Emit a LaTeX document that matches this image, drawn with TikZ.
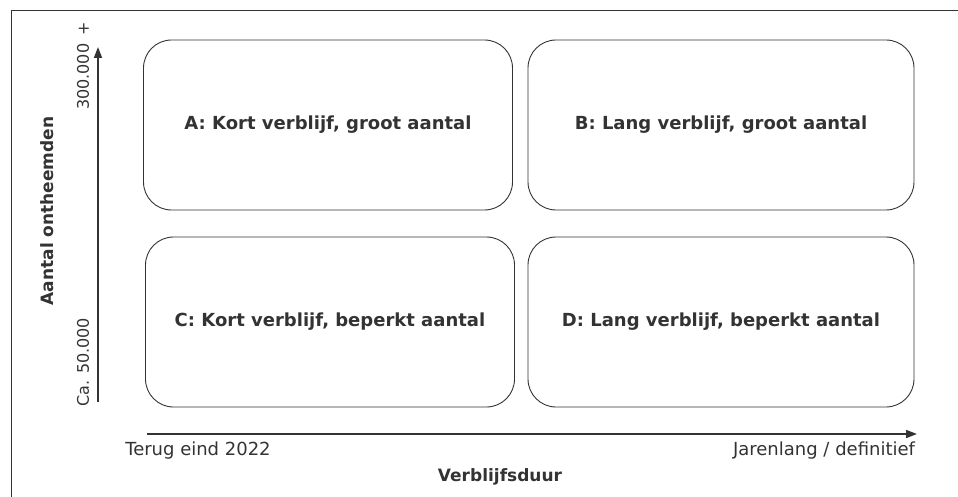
\documentclass[tikz,border=0pt]{standalone}
\usepackage{fontspec}
\setmainfont{DejaVu Sans}
\usetikzlibrary{arrows.meta}
\definecolor{ink}{HTML}{333333}
\tikzset{
  quadrant/.style={draw=ink, line width=0.9pt, rounded corners=28pt, text=ink,
    font=\bfseries\fontsize{18}{20}\selectfont, inner sep=0pt},
  axis/.style={draw=ink, line width=1.6pt, -{Triangle[length=11pt,width=8pt]}},
  scalelabel/.style={text=ink, font=\fontsize{18}{20}\selectfont, inner sep=0pt},
  vscalelabel/.style={text=ink, font=\fontsize{16}{18}\selectfont, inner sep=0pt, rotate=90, anchor=west},
  axislabel/.style={text=ink, font=\bfseries\fontsize{17}{19}\selectfont, inner sep=0pt}
}
\begin{document}
\begin{tikzpicture}[x=1pt, y=-1pt]
  \useasboundingbox (0,0) rectangle (958,497);
  % Kader
  \draw[ink, line width=0.8pt] (11,497) -- (11,10) -- (958,10);

  % Kwadranten
  \node[quadrant, minimum width=369pt, minimum height=170pt] (qa) at (328,125) {A: Kort verblijf, groot aantal};
  \node[quadrant, minimum width=386pt, minimum height=170pt] (qb) at (721,125) {B: Lang verblijf, groot aantal};
  \node[quadrant, minimum width=369pt, minimum height=170pt] (qc) at (330,322) {C: Kort verblijf, beperkt aantal};
  \node[quadrant, minimum width=386pt, minimum height=170pt] (qd) at (721,322) {D: Lang verblijf, beperkt aantal};

  % Assen
  \coordinate (ybot) at (98,402);
  \coordinate (ytop) at (98,47);
  \coordinate (xleft) at (147,434);
  \coordinate (xright) at (917,434);
  \draw[axis] (ybot) -- (ytop);
  \draw[axis] (xleft) -- (xright);

  % Schaal verticaal
  \node[vscalelabel] (yhigh) at (83,110) {300.000 \,+};
  \node[vscalelabel] (ylow) at (83,407) {Ca. 50.000};
  \node[axislabel, rotate=90] (ytitle) at (47,211) {Aantal ontheemden};

  % Schaal horizontaal
  \node[scalelabel] (xlow) at (198,451) {Terug eind 2022};
  \node[scalelabel] (xhigh) at (824,451) {Jarenlang / definitief};
  \node[axislabel] (xtitle) at (500,477) {Verblijfsduur};
\end{tikzpicture}
\end{document}
